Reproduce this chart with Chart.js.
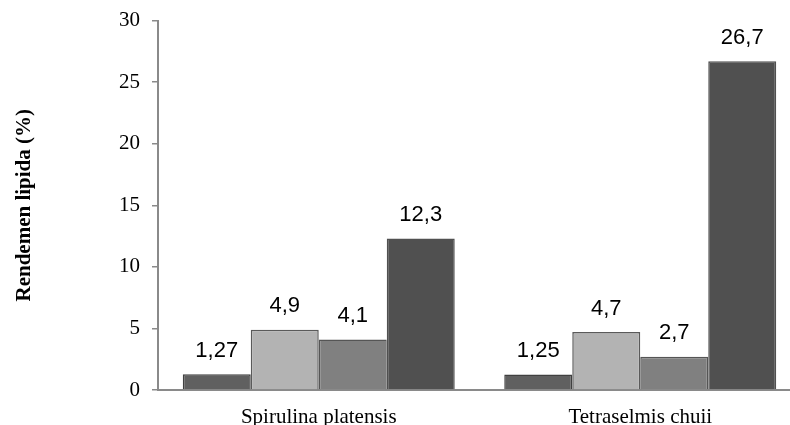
<!DOCTYPE html>
<html>
<head>
<meta charset="utf-8">
<script src="https://cdn.jsdelivr.net/npm/chart.js@4/dist/chart.umd.min.js"></script>
<style>
  html, body { margin: 0; padding: 0; background: #ffffff; overflow: hidden; }
  #wrap { width: 802px; height: 425px; }
</style>
</head>
<body>
<div id="wrap"><canvas id="chart" width="802" height="425"></canvas></div>
<script>
// Lipid yield per microalga, four extraction treatments
const categories = ['Spirulina platensis', 'Tetraselmis chuii'];
const seriesNames = ['Perlakuan 1', 'Perlakuan 2', 'Perlakuan 3', 'Perlakuan 4'];
const series1 = [1.27, 1.25];
const series2 = [4.9, 4.7];
const series3 = [4.1, 2.7];
const series4 = [12.3, 26.7];
const yTicks = [0, 5, 10, 15, 20, 25, 30];

const fills = ['#606060', '#b3b3b3', '#808080', '#505050'];
const edges = ['#404040', '#5a5a5a', '#555555', '#505050'];
const axisGrey = '#8a8a8a';

const datasets = [series1, series2, series3, series4].map((vals, i) => ({
  label: seriesNames[i],
  data: vals,
  backgroundColor: fills[i],
  borderColor: edges[i],
  borderWidth: 1.5,
  categoryPercentage: 0.846,
  barPercentage: 1.0
}));

// value labels above each bar, decimal comma
const valueLabels = {
  id: 'valueLabels',
  afterDatasetsDraw(chart) {
    const ctx = chart.ctx;
    ctx.save();
    ctx.font = '22px "Liberation Sans", Arial, sans-serif';
    ctx.fillStyle = '#000000';
    ctx.textAlign = 'center';
    ctx.textBaseline = 'alphabetic';
    chart.data.datasets.forEach((ds, di) => {
      const meta = chart.getDatasetMeta(di);
      meta.data.forEach((bar, i) => {
        const txt = String(ds.data[i]).replace('.', ',');
        ctx.fillText(txt, bar.x, bar.y - 17.5);
      });
    });
    ctx.restore();
  }
};

new Chart(document.getElementById('chart'), {
  type: 'bar',
  data: { labels: categories, datasets: datasets },
  options: {
    responsive: false,
    animation: false,
    devicePixelRatio: 1,
    layout: { padding: { top: 20.5, right: 1, bottom: 0, left: 0 } },
    plugins: {
      legend: { display: false },
      tooltip: { enabled: false }
    },
    scales: {
      x: {
        afterFit(scale) { scale.height = 35; },
        grid: { display: false, drawTicks: false },
        border: { display: true, color: axisGrey, width: 2 },
        ticks: {
          padding: 15,
          color: '#000000',
          font: { family: '"Liberation Serif", "Times New Roman", serif', size: 21 }
        }
      },
      y: {
        min: 0,
        max: 30,
        afterFit(scale) {
          scale.width = 158;
          scale.paddingTop = 0;
          scale.paddingBottom = 0;
        },
        afterBuildTicks(scale) { scale.ticks = yTicks.map(v => ({ value: v })); },
        grid: { drawOnChartArea: false, drawTicks: true, tickLength: 6, color: axisGrey, lineWidth: 1.5 },
        border: { display: true, color: axisGrey, width: 2 },
        ticks: {
          padding: 12,
          color: '#000000',
          font: { family: '"Liberation Serif", "Times New Roman", serif', size: 21 }
        },
        title: {
          display: true,
          text: 'Rendemen lipida (%)',
          color: '#000000',
          padding: { top: 12, bottom: 0 },
          font: { family: '"Liberation Serif", "Times New Roman", serif', size: 21, weight: 'bold' }
        }
      }
    }
  },
  plugins: [valueLabels]
});
</script>
</body>
</html>
